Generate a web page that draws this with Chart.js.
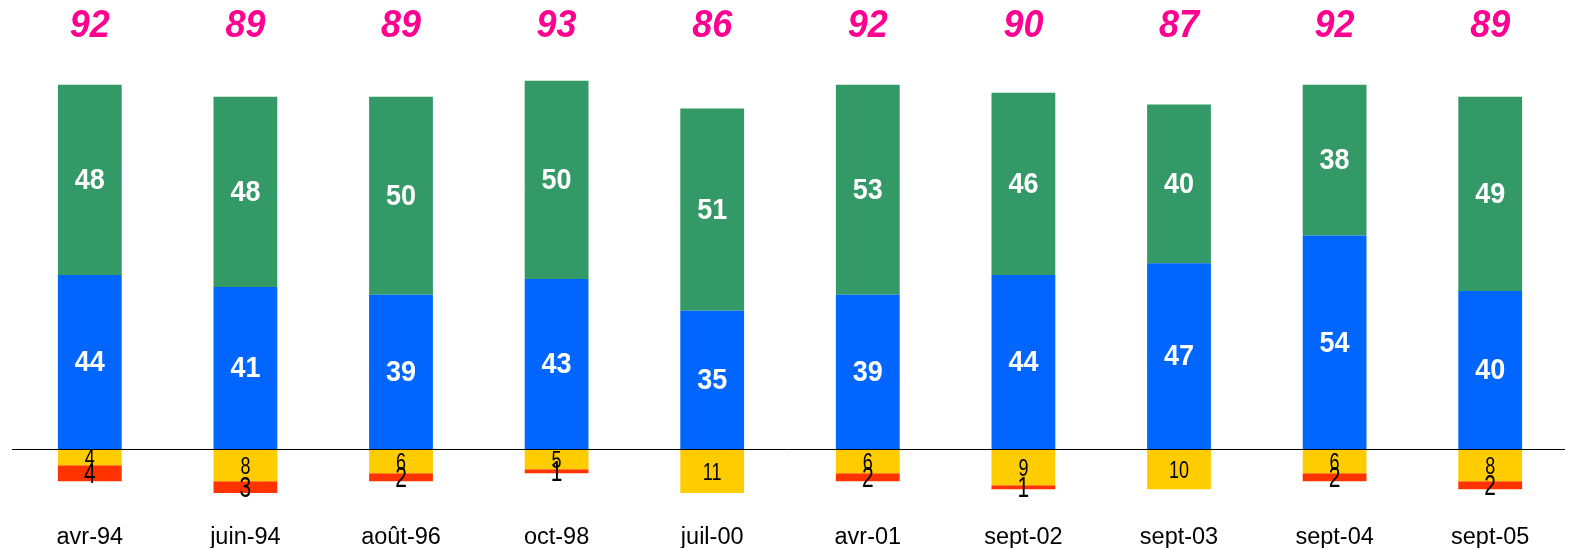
<!DOCTYPE html>
<html>
<head>
<meta charset="utf-8">
<script src="https://cdn.jsdelivr.net/npm/chart.js@4"></script>
<style>
html,body{margin:0;padding:0;background:#fff;}
#wrap{width:1570px;height:548px;position:relative;}
</style>
</head>
<body>
<div id="wrap"><canvas id="c" width="1570" height="548"></canvas></div>
<script>
const categories = ["avr-94","juin-94","août-96","oct-98","juil-00","avr-01","sept-02","sept-03","sept-04","sept-05"];
const blueValues   = [44,41,39,43,35,39,44,47,54,40];
const greenValues  = [48,48,50,50,51,53,46,40,38,49];
const yellowValues = [4,8,6,5,11,6,9,10,6,8];
const redValues    = [4,3,2,1,0,2,1,0,2,2];
const totals = blueValues.map((v,i)=>v+greenValues[i]);

const FONT = "'Liberation Sans', Arial, sans-serif";

const labelPlugin = {
  id:'labels',
  afterDatasetsDraw(chart){
    const ctx = chart.ctx;
    const ys = chart.scales.y;
    const area = chart.chartArea;
    const y0 = Math.round(ys.getPixelForValue(0))+0.5;
    ctx.save();
    ctx.strokeStyle='#000'; ctx.lineWidth=1;
    ctx.beginPath(); ctx.moveTo(area.left,y0); ctx.lineTo(area.right-3,y0); ctx.stroke();
    ctx.restore();
    const styles = [
      {font:'bold 27px '+FONT, color:'#ffffff', sy:1.08},
      {font:'bold 27px '+FONT, color:'#ffffff', sy:1.08},
      {font:'18px '+FONT, color:'#000000', sy:1.38},
      {font:'21px '+FONT, color:'#000000', sy:1.4}
    ];
    chart.data.datasets.forEach((ds,di)=>{
      const meta = chart.getDatasetMeta(di);
      meta.data.forEach((bar,i)=>{
        const v = ds.data[i];
        if(!v) return;
        const st = styles[di];
        const cy = (bar.y + bar.base)/2;
        ctx.save();
        ctx.font = st.font; ctx.fillStyle = st.color;
        ctx.textAlign='center'; ctx.textBaseline='middle';
        ctx.translate(bar.x, cy);
        ctx.scale(1, st.sy);
        ctx.fillText(String(Math.abs(v)), 0, 1);
        ctx.restore();
      });
    });
    const meta0 = chart.getDatasetMeta(0);
    ctx.save();
    ctx.font = 'italic bold 36px '+FONT;
    ctx.fillStyle = '#ff0090';
    ctx.textAlign='center'; ctx.textBaseline='middle';
    meta0.data.forEach((bar,i)=>{
      ctx.save();
      ctx.translate(bar.x, 26);
      ctx.scale(1,1.06);
      ctx.fillText(String(totals[i]),0,0);
      ctx.restore();
    });
    ctx.restore();
  }
};

new Chart(document.getElementById('c'),{
  type:'bar',
  data:{
    labels:categories,
    datasets:[
      {label:'bleu', data:blueValues, backgroundColor:'#0066ff', stack:'s'},
      {label:'vert', data:greenValues, backgroundColor:'#339966', stack:'s'},
      {label:'jaune', data:yellowValues.map(v=>-v), backgroundColor:'#ffcc00', stack:'s'},
      {label:'rouge', data:redValues.map(v=>-v), backgroundColor:'#ff3300', stack:'s'}
    ]
  },
  options:{
    responsive:false,
    animation:false,
    devicePixelRatio:1,
    layout:{padding:{top:55,left:12,right:2,bottom:0}},
    datasets:{bar:{barPercentage:0.41,categoryPercentage:1,borderWidth:0}},
    plugins:{legend:{display:false},tooltip:{enabled:false}},
    scales:{
      x:{stacked:true, offset:true,
         afterFit(scale){ scale.height = 43; },
         grid:{display:false, drawTicks:false}, border:{display:false},
         ticks:{padding:18, color:'#000', font:{family:FONT,size:23.5}, maxRotation:0, autoSkip:false}},
      y:{stacked:true, display:false, min:-14, max:99.5}
    }
  },
  plugins:[labelPlugin]
});
</script>
</body>
</html>
